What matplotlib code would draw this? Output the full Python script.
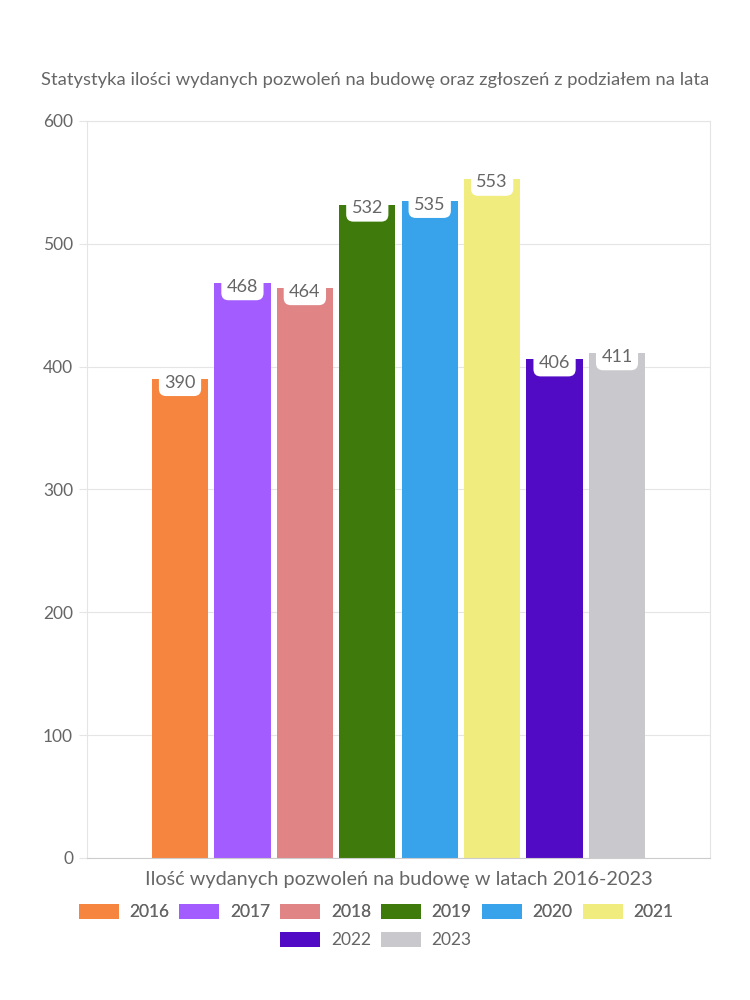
import matplotlib
matplotlib.use("Agg")
import matplotlib.pyplot as plt
from matplotlib.patches import Patch

years = ["2016", "2017", "2018", "2019", "2020", "2021", "2022", "2023"]
values = [390, 468, 464, 532, 535, 553, 406, 411]
colors = ["#f68540", "#a25cff", "#e08485", "#3f7b0c", "#38a2eb", "#f0ec7d", "#520bc4", "#c9c9cd"]
yticks = [0, 100, 200, 300, 400, 500, 600]

title = "Statystyka ilości wydanych pozwoleń na budowę oraz zgłoszeń z podziałem na lata"
xlabel = "Ilość wydanych pozwoleń na budowę w latach 2016-2023"

plt.rcParams['font.family'] = ['Lato', 'DejaVu Sans']
txt = "#666666"

fig = plt.figure(figsize=(7.5, 10), dpi=100)
ax = fig.add_axes([87/750, 1 - 858/1000, (710-87)/750, (858-121)/1000])

x = list(range(len(years)))
ax.bar(x, values, width=0.9, color=colors, zorder=2)
for xi, v in zip(x, values):
    ax.text(xi, v - 3, str(v), ha="center", va="center", fontsize=13, color=txt, zorder=4,
            bbox=dict(boxstyle="round,pad=0.3,rounding_size=0.4", fc="white", ec="none"))

ax.set_xlim(-1.49, 7 + 1.49)
ax.set_ylim(0, 600)
ax.set_yticks(yticks)
ax.set_yticklabels([str(t) for t in yticks], fontsize=12.5, color=txt)
ax.set_xticks([])
ax.grid(axis="y", color="#e5e5e5", linewidth=0.8, zorder=0)
ax.tick_params(axis="y", length=6, color="#e5e5e5", pad=4)
for s in ["left", "right", "top"]:
    ax.spines[s].set_color("#e5e5e5")
    ax.spines[s].set_linewidth(0.8)
ax.spines["bottom"].set_color("#cccccc")
ax.spines["bottom"].set_linewidth(0.8)

fig.text(0.5, 1 - 80/1000, title, ha="center", va="center", fontsize=13.2, color=txt)
fig.text(398.5/750, 1 - 880/1000, xlabel, ha="center", va="center", fontsize=14.3, color=txt)

handles = [Patch(facecolor=c, edgecolor="none") for c in colors]
kw = dict(frameon=False, fontsize=12.5, handlelength=2.3, handleheight=1.0, columnspacing=0.6,
          handletextpad=0.6, labelcolor=txt)
leg1 = fig.legend(handles[:6], years[:6], loc="center", bbox_to_anchor=(376/750, 1 - 912/1000), ncol=6, **kw)
fig.add_artist(leg1)
fig.legend(handles[6:], years[6:], loc="center", bbox_to_anchor=(376/750, 1 - 940/1000), ncol=2, **kw)

fig.savefig("out.png", dpi=100, facecolor="white")
